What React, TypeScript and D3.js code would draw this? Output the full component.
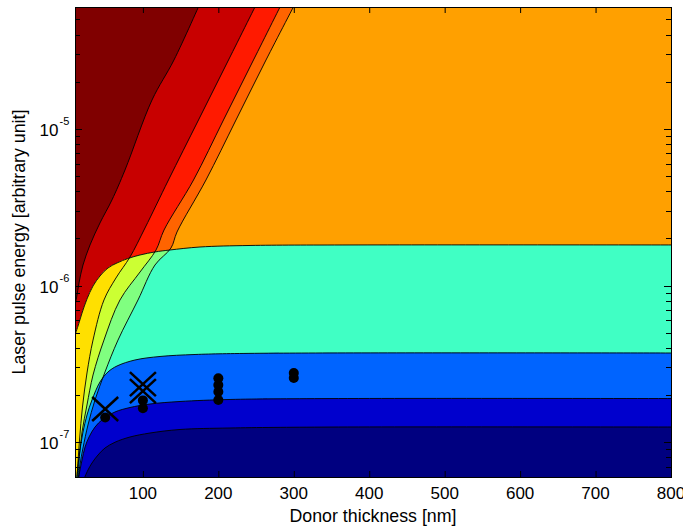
import React from 'react'
import * as d3 from 'd3'

type Pt = [number, number]

// axes
const thicknessTicks = [100, 200, 300, 400, 500, 600, 700, 800]
const energyExponents = [-7, -6, -5]

// contour borders, [donor thickness nm, pulse energy]
// flat borders, bottom to top
const edgeNavy: Pt[] = [[21, 5.7e-8], [27.2, 6.65e-8], [32.5, 7.37e-8], [40.5, 8.29e-8], [49.8, 9.19e-8], [63, 1.0e-7], [82.9, 1.08e-7], [109.4, 1.145e-7], [149.2, 1.206e-7], [215.5, 1.233e-7], [348, 1.25e-7], [830, 1.25e-7]]
const edgeBlue: Pt[] = [[14, 5.74e-8], [16.6, 6.65e-8], [19.3, 7.7e-8], [23.3, 9.32e-8], [28.6, 1.08e-7], [36.5, 1.25e-7], [47.1, 1.407e-7], [63, 1.56e-7], [82.9, 1.666e-7], [109.4, 1.754e-7], [149.2, 1.82e-7], [215.5, 1.875e-7], [348, 1.9e-7], [830, 1.9e-7]]
const edgeLightBlue: Pt[] = [[12, 5.74e-8], [14, 7.16e-8], [16.6, 8.92e-8], [20.6, 1.162e-7], [25.9, 1.492e-7], [32.5, 1.861e-7], [43.1, 2.424e-7], [53.7, 2.808e-7], [65.7, 3.067e-7], [89.5, 3.35e-7], [122.7, 3.527e-7], [169.1, 3.632e-7], [255.2, 3.697e-7], [830, 3.71e-7]]
const edgeAqua: Pt[] = [[8.7, 4.63e-7], [14, 5.52e-7], [19.3, 6.68e-7], [25.9, 8.21e-7], [33.9, 9.94e-7], [43.1, 1.151e-6], [53.7, 1.295e-6], [65.7, 1.394e-6], [80.3, 1.489e-6], [96.2, 1.568e-6], [116, 1.639e-6], [135.9, 1.687e-6], [175.7, 1.763e-6], [242, 1.803e-6], [374.5, 1.816e-6], [830, 1.816e-6]]

// slanted borders, top to bottom-left
const slantA: Pt[] = [[304.3, 6.65e-5], [263.2, 2.754e-5], [223.4, 1.14e-5], [183.6, 4.72e-6], [145.2, 2.198e-6], [137.2, 1.737e-6], [116, 1.353e-6], [93.5, 8.09e-7], [67, 4.49e-7], [49.8, 2.81e-7], [36.5, 1.861e-7], [27.2, 1.289e-7], [20.6, 9.19e-8], [16.6, 7.16e-8], [14.6, 5.74e-8]]
const slantB: Pt[] = [[286.4, 6.65e-5], [246.6, 2.754e-5], [206.8, 1.14e-5], [167.1, 4.72e-6], [128, 2.263e-6], [117.4, 1.687e-6], [96.2, 1.221e-6], [69.6, 8.09e-7], [48.4, 4.49e-7], [33.9, 2.687e-7], [25.9, 1.729e-7], [19.3, 1.162e-7], [16, 8.29e-8], [13.7, 5.74e-8]]
const slantC: Pt[] = [[253.2, 6.65e-5], [213.5, 2.754e-5], [173.7, 1.14e-5], [133.9, 4.72e-6], [102.8, 2.332e-6], [82.9, 1.522e-6], [64.3, 1.118e-6], [48.4, 8.09e-7], [33.9, 4.49e-7], [25.9, 2.767e-7], [19.9, 1.679e-7], [16, 1.034e-7], [13.3, 6.65e-8], [12.7, 5.74e-8]]
const slantD: Pt[] = [[177.7, 6.65e-5], [141.2, 2.754e-5], [112.1, 1.53e-5], [76.3, 5.47e-6], [59, 3.52e-6], [43.1, 2.51e-6], [29.9, 1.816e-6], [20.6, 1.353e-6], [15.3, 1.039e-6], [12, 8.33e-7], [8.7, 6.99e-7]]

// measurements
const dotThickness = [50, 100, 100, 200, 200, 200, 200, 300, 300]
const dotEnergy = [1.44e-7, 1.65e-7, 1.85e-7, 1.86e-7, 2.1e-7, 2.32e-7, 2.56e-7, 2.57e-7, 2.77e-7]
const crossThickness = [50, 100, 100]
const crossEnergy = [1.63e-7, 2.12e-7, 2.35e-7]

const C = {
  maroon: '#800000', darkRed: '#C80000', red: '#FF1A00', orangeRed: '#FF6400', orange: '#FFA000',
  yellow: '#FFE000', yellowGreen: '#CCFF33', green: '#80FF80', aqua: '#40FFC4',
  cyan: '#00E0FF', sky: '#00A8FF', lightBlue: '#0064FF', blue: '#0000CD', navy: '#000080',
}

export default function App() {
  const W = 683, H = 529
  const L = 75, R = 671, T = 7, B = 477
  const x = d3.scaleLinear().domain([10, 800]).range([L, R])
  const y = d3.scaleLog().domain([6e-8, 6e-5]).range([B, T])

  const line = d3.line<Pt>().x(d => x(d[0])).y(d => y(d[1])).curve(d3.curveCatmullRom.alpha(0.5))
  const pt = (d: number, e: number) => `${x(d)},${y(e)}`
  const above = (c: Pt[]) => line(c) + `L${pt(900, 1e-3)}L${pt(-50, 1e-3)}Z`
  const below = (c: Pt[]) => line(c) + `L${pt(900, 1e-9)}L${pt(-50, 1e-9)}Z`
  const leftOf = (c: Pt[]) => line(c) + `L${pt(-50, 1e-9)}L${pt(-50, 1e-3)}Z`

  const minor: number[] = []
  for (let p = -8; p <= -5; p++) for (let k = 2; k <= 9; k++) {
    const v = k * Math.pow(10, p)
    if (v > 6e-8 && v < 6e-5) minor.push(v)
  }
  const font = "'Liberation Sans', Arial, sans-serif"

  return (
    <div style={{ position: 'absolute', left: 0, top: 0 }}>
      <svg width={W} height={H} style={{ display: 'block', background: '#fff' }}>
        <defs>
          <clipPath id="plot"><rect x={L} y={T} width={R - L} height={B - T} /></clipPath>
          <clipPath id="upper"><path d={above(edgeAqua)} /></clipPath>
          <clipPath id="lower"><path d={below(edgeAqua)} /></clipPath>
          <clipPath id="base"><path d={below(edgeLightBlue)} /></clipPath>
        </defs>
        <g clipPath="url(#plot)">
          <rect x={L} y={T} width={R - L} height={B - T} fill={C.orange} />
          <g clipPath="url(#upper)">
            <path d={leftOf(slantA)} fill={C.orangeRed} />
            <path d={leftOf(slantB)} fill={C.red} />
            <path d={leftOf(slantC)} fill={C.darkRed} />
            <path d={leftOf(slantD)} fill={C.maroon} />
          </g>
          <g clipPath="url(#lower)">
            <rect x={L} y={T} width={R - L} height={B - T} fill={C.aqua} />
            <path d={leftOf(slantA)} fill={C.green} />
            <path d={leftOf(slantB)} fill={C.yellowGreen} />
            <path d={leftOf(slantC)} fill={C.yellow} />
          </g>
          <g clipPath="url(#base)">
            <rect x={L} y={T} width={R - L} height={B - T} fill={C.lightBlue} />
            <path d={leftOf(slantA)} fill={C.sky} />
            <path d={leftOf(slantB)} fill={C.cyan} />
            <path d={leftOf(slantC)} fill={C.aqua} />
          </g>
          <path d={below(edgeBlue)} fill={C.blue} />
          <path d={below(edgeNavy)} fill={C.navy} />
          {[edgeNavy, edgeBlue, edgeLightBlue, edgeAqua, slantA, slantB, slantC, slantD].map((c, i) => (
            <path key={i} d={line(c) || ''} fill="none" stroke="#000" strokeWidth={0.9} />
          ))}
          {dotThickness.map((d, i) => (
            <circle key={i} cx={x(d)} cy={y(dotEnergy[i])} r={5} fill="#000" />
          ))}
          {crossThickness.map((d, i) => {
            const cx = x(d), cy = y(crossEnergy[i])
            return (
              <g key={i} stroke="#000" strokeWidth={2.5}>
                <line x1={cx - 13} y1={cy - 12} x2={cx + 13} y2={cy + 12} />
                <line x1={cx - 13} y1={cy + 12} x2={cx + 13} y2={cy - 12} />
              </g>
            )
          })}
        </g>

        <rect x={L + 0.5} y={T + 0.5} width={R - L} height={B - T} fill="none" stroke="#000" strokeWidth={1} />
        <g stroke="#000" strokeWidth={1}>
          {thicknessTicks.map(v => (
            <g key={v}>
              <line x1={x(v) + 0.5} x2={x(v) + 0.5} y1={B} y2={B - 6} />
              <line x1={x(v) + 0.5} x2={x(v) + 0.5} y1={T} y2={T + 6} />
            </g>
          ))}
          {energyExponents.map(p => {
            const yy = Math.round(y(Math.pow(10, p))) + 0.5
            return (
              <g key={p}>
                <line x1={L} x2={L + 7} y1={yy} y2={yy} />
                <line x1={R} x2={R - 7} y1={yy} y2={yy} />
              </g>
            )
          })}
          {minor.map((v, i) => {
            const yy = Math.round(y(v)) + 0.5
            return (
              <g key={i}>
                <line x1={L} x2={L + 5} y1={yy} y2={yy} />
                <line x1={R} x2={R - 5} y1={yy} y2={yy} />
              </g>
            )
          })}
        </g>

        <g fontFamily={font} fontSize={17} fill="#000">
          {thicknessTicks.map(v => (
            <text key={v} x={x(v)} y={499} textAnchor="middle">{v}</text>
          ))}
          {energyExponents.map(p => {
            const yy = y(Math.pow(10, p))
            return (
              <g key={p}>
                <text x={58.5} y={yy + 7} textAnchor="end">10</text>
                <text x={59.5} y={yy - 4} fontSize={11}>{`-${-p}`}</text>
              </g>
            )
          })}
          <text x={(L + R) / 2} y={522} fontSize={17.8} textAnchor="middle">Donor thickness [nm]</text>
          <text transform={`translate(25,${(T + B) / 2}) rotate(-90)`} fontSize={17.8} textAnchor="middle">Laser pulse energy [arbitrary unit]</text>
        </g>
      </svg>
    </div>
  )
}
